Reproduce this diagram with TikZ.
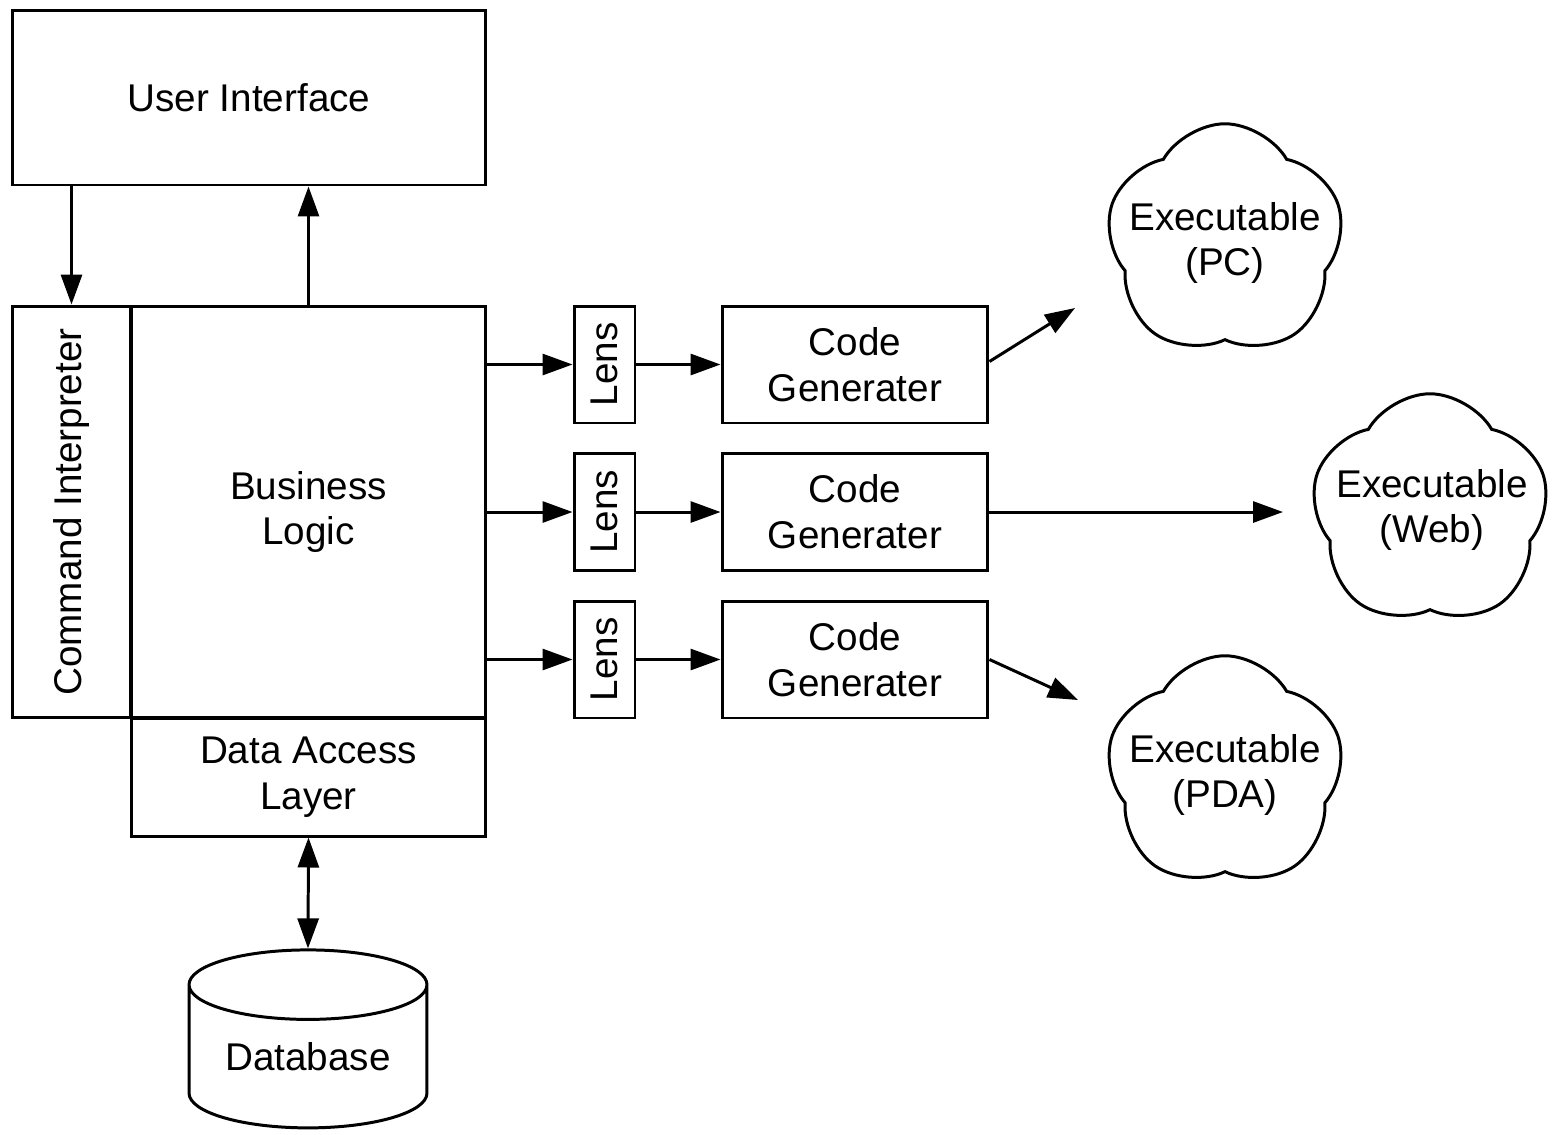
\documentclass[tikz,border=0pt]{standalone}
\usepackage{fontspec}
\setmainfont{Liberation Sans}
\usetikzlibrary{arrows.meta,shapes.geometric,shapes.symbols}
\begin{document}
\begin{tikzpicture}[x=0.02cm,y=-0.02cm,
    box/.style={draw,line width=1.7pt,inner sep=0pt,align=center,font=\fontsize{22}{26}\selectfont},
    txt/.style={inner sep=0pt,align=center,font=\fontsize{22}{26}\selectfont},
    puff/.style={draw,line width=1.7pt,cloud,cloud puffs=5,cloud puff arc=120,cloud ignores aspect,minimum width=4.75cm,minimum height=4.65cm},
    arr/.style={line width=1.7pt,-{Triangle[length=6mm,width=4.2mm]}},
    arrs/.style={line width=1.7pt,{Triangle[length=6mm,width=4.2mm]}-{Triangle[length=6mm,width=4.2mm]}}]
    \useasboundingbox (0,0) rectangle (1555,1134);
    \node[box,minimum width=9.48cm,minimum height=3.5cm] (ui) at (249,97.5) {User Interface};
    \node[box,minimum width=2.38cm,minimum height=8.24cm] (ci) at (71.5,512) {\rotatebox{90}{Command Interpreter}};
    \node[box,minimum width=7.1cm,minimum height=8.24cm] (bl) at (308.5,512) {Business\\Logic};
    \node[box,minimum width=7.1cm,minimum height=2.36cm] (dal) at (308.5,777) {Data Access\\Layer};
    \node[box,cylinder,shape border rotate=90,aspect=0.42,minimum width=4.76cm,minimum height=3.56cm] (db) at (308,1057) {Database};
    \foreach \i/\y in {1/364.5,2/512,3/659.5} {
        \node[box,minimum width=1.22cm,minimum height=2.34cm] (l\i) at (604.5,\y) {\rotatebox{90}{Lens}};
        \node[box,minimum width=5.32cm,minimum height=2.34cm] (c\i) at (855,\y) {Code\\Generater};
        \draw[arr] (bl.east |- l\i) -- (l\i.west);
        \draw[arr] (l\i) -- (c\i);
    }
    \node[puff,shape border rotate=-10] (pc) at (1225,240) {};
    \node[txt] (pctext) at (1225,243) {Executable\\(PC)};
    \node[puff,shape border rotate=-10] (web) at (1430,510) {};
    \node[txt] (webtext) at (1432,510) {Executable\\(Web)};
    \node[puff,shape border rotate=-10] (pda) at (1225,772) {};
    \node[txt] (pdatext) at (1225,775) {Executable\\(PDA)};
    \coordinate (pcend) at (1075,308);
    \coordinate (webend) at (1283,512);
    \coordinate (pdaend) at (1078,700);
    \draw[arr] (ci.north |- ui.south) -- (ci.north);
    \draw[arr] (bl.north) -- (bl.north |- ui.south);
    \draw[arrs] (dal.south) -- (db.north);
    \draw[arr] (c1.east) ++(0,-3) -- (pcend);
    \draw[arr] (c2.east) -- (webend);
    \draw[arr] (c3.east) -- (pdaend);
\end{tikzpicture}
\end{document}
